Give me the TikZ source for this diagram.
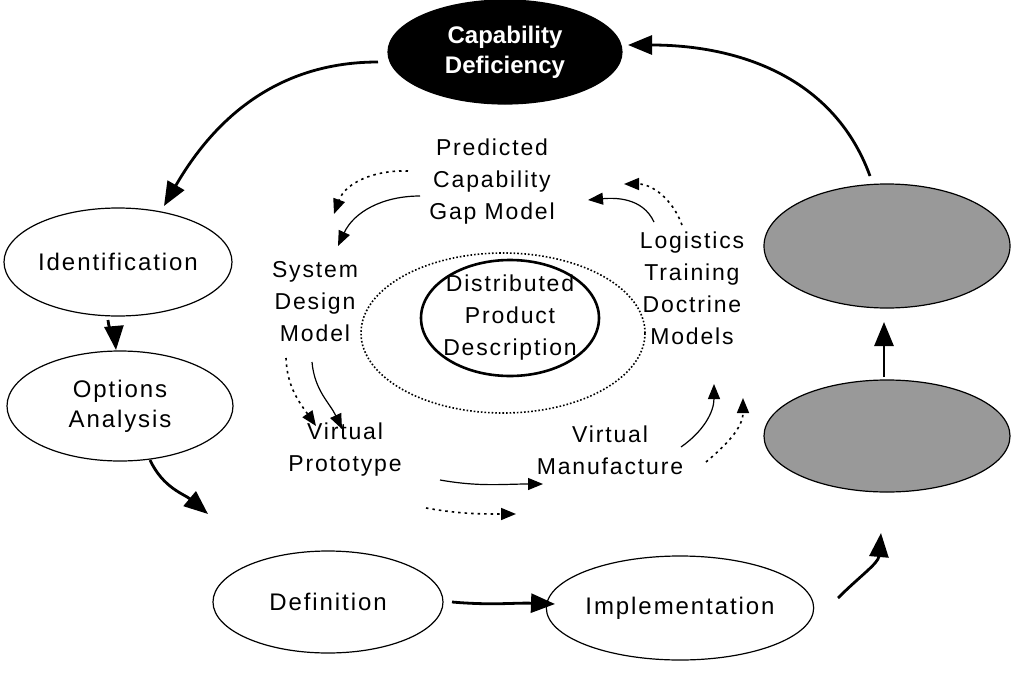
\documentclass[tikz,border=0pt]{standalone}
\usepackage{fontspec}
\setmainfont{Liberation Sans}
\usetikzlibrary{shapes.geometric,arrows.meta,positioning}

\begin{document}
\begin{tikzpicture}[x=1pt,y=-1pt]
    \tikzset{>={Triangle[length=24pt,width=19pt]}}
    \tikzset{stage/.style={ellipse,draw,line width=1.2pt,inner sep=0pt,align=center,
             font=\fontsize{24}{30}\selectfont\addfontfeature{LetterSpace=8}}}
    \tikzset{label/.style={align=center,inner sep=0pt,
             font=\fontsize{23}{32}\selectfont\addfontfeature{LetterSpace=8}}}
    \tikzset{big/.style={->,line width=2.8pt}}
    \tikzset{thin/.style={-{Triangle[length=15pt,width=12pt]},line width=1.2pt}}
    \tikzset{dots/.style={thin,dash pattern=on 2.5pt off 4pt,line width=1.6pt}}
  \useasboundingbox (0,0) rectangle (1013,675);
  %\draw[step=50,gray,very thin] (0,0) grid (1013,675);

  % outer cycle
\node[stage,fill=black,text=white,minimum width=234pt,minimum height=104pt,
      font=\fontsize{24}{30}\selectfont\bfseries] (cap) at (505,52) {Capability\\Deficiency};
\node[stage,minimum width=228pt,minimum height=108pt] (ident) at (118,262) {Identification};
\node[stage,minimum width=226pt,minimum height=110pt] (opt) at (120,406) {Options\\Analysis};
\node[stage,minimum width=230pt,minimum height=102pt] (defn) at (328,602) {Definition};
\node[stage,minimum width=228pt,minimum height=104pt] (impl) at (680,608) {Implementation};
\node[stage,fill=black!40,minimum width=246pt,minimum height=124pt] (upper) at (887,246) {};
\node[stage,fill=black!40,minimum width=246pt,minimum height=112pt] (lower) at (887,436) {};

  % inner cycle
\node[ellipse,draw,line width=2.6pt,minimum width=178pt,minimum height=116pt] (dpd) at (510,318) {};
\node[label] (dpdtext) at (dpd) {Distributed\\Product\\Description};
\node[ellipse,draw,dotted,line width=1.6pt,minimum width=284pt,minimum height=160pt] (ring) at (503,333) {};

\node[label] (gap) at (492,182) {Predicted\\Capability\\Gap Model};
\node[label] (sdm) at (315,302) {System\\Design\\Model};
\node[label] (ltd) at (692,288) {Logistics\\Training\\Doctrine\\Models};
\node[label] (vp) at (345,450) {Virtual\\Prototype};
\node[label] (vm) at (610,450) {Virtual\\Manufacture};

\draw [big] ([shift={(-127,10)}]cap.center) to [out=180,in=60] ([shift={(46,-56)}]ident.center);
\draw [big] ([shift={(-10,58)}]ident.center) to [out=-85,in=95] ([shift={(-4,-56)}]opt.center);
\draw [big] ([shift={(30,54)}]opt.center) to [out=-65,in=140] ([shift={(-120,-88)}]defn.center);
\draw [big] ([shift={(124,0)}]defn.center) to [out=-5,in=178] ([shift={(-125,-4)}]impl.center);
\draw [big] ([shift={(158,-10)}]impl.center) to [out=45,in=-95] ([shift={(-6,97)}]lower.center);
\draw [big] ([shift={(-3,-59)}]lower.center) -- ([shift={(-3,76)}]upper.center);
\draw [big] ([shift={(-17,-70)}]upper.center) to [out=110,in=0] ([shift={(123,-7)}]cap.center);

\draw [thin] ([shift={(-72,14)}]gap.center) to [out=180,in=65] ([shift={(23,-56)}]sdm.center);
\draw [dots] ([shift={(-84,-11)}]gap.center) to [out=178,in=70] ([shift={(19,-88)}]sdm.center);
\draw [dots] ([shift={(-29,56)}]sdm.center) to [out=-88,in=125] ([shift={(-29,-24)}]vp.center);
\draw [thin] ([shift={(-3,60)}]sdm.center) to [out=-85,in=115] ([shift={(-3,-21)}]vp.center);
\draw [thin] ([shift={(95,30)}]vp.center) to [out=-10,in=180] ([shift={(-67,34)}]vm.center);
\draw [dots] ([shift={(81,58)}]vp.center) to [out=-10,in=180] ([shift={(-94,64)}]vm.center);
\draw [thin] ([shift={(71,-3)}]vm.center) to [out=35,in=-90] ([shift={(22,96)}]ltd.center);
\draw [dots] ([shift={(96,12)}]vm.center) to [out=40,in=-90] ([shift={(51,110)}]ltd.center);
\draw [thin] ([shift={(-38,-66)}]ltd.center) to [out=115,in=5] ([shift={(96,18)}]gap.center);
\draw [dots] ([shift={(-10,-63)}]ltd.center) to [out=110,in=0] ([shift={(132,2)}]gap.center);

\end{tikzpicture}
\end{document}
